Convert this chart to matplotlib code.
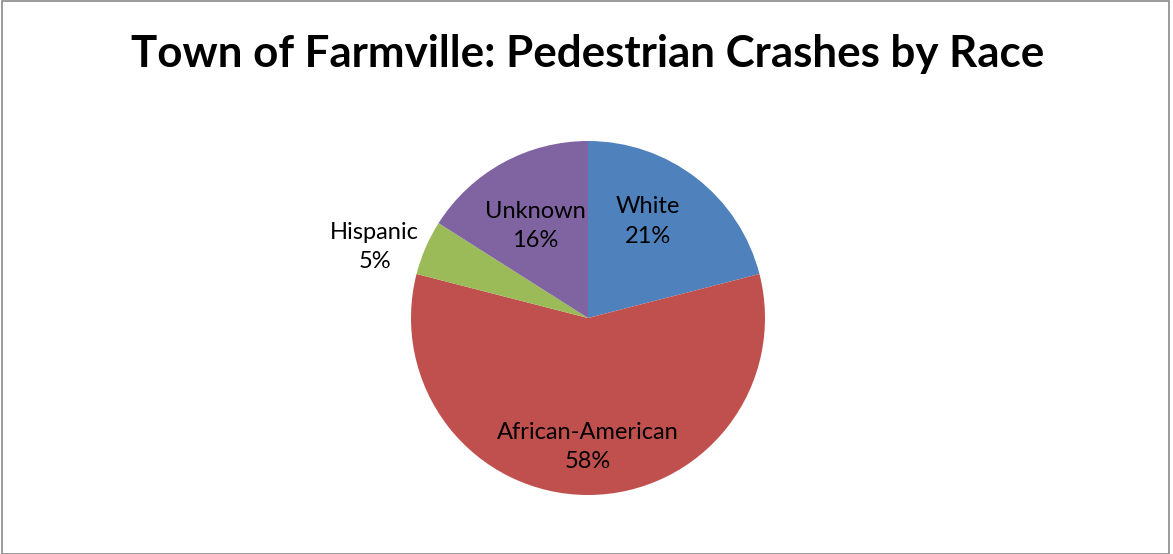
import numpy as np
import matplotlib
matplotlib.use("Agg")
import matplotlib.pyplot as plt
from matplotlib.patches import Rectangle

plt.rcParams['font.family'] = ['Lato', 'DejaVu Sans']

races = ['White', 'African-American', 'Hispanic', 'Unknown']
shares = [21, 58, 5, 16]
colors = ['#4F81BD', '#C0504D', '#9BBB59', '#8064A2']
label_radius = [0.64, 0.73, 1.27, 0.60]
label_turn = [6, 0, 5, 1]  # degrees, nudges labels like Excel's best fit

fig = plt.figure(figsize=(11.73, 5.54), dpi=100)
fig.patches.append(Rectangle((0.002, 0.0), 0.995, 0.998, transform=fig.transFigure,
                             fill=False, edgecolor='#8a8a8a', linewidth=1.2))

fig.text(0.501, 0.903, 'Town of Farmville: Pedestrian Crashes by Race',
         ha='center', va='center', fontsize=31.6, fontweight='bold')

cx, cy, r = 588, 318, 177
ax = fig.add_axes([(cx - r) / 1173, (554 - cy - r) / 554, 2 * r / 1173, 2 * r / 554])
wedges, _ = ax.pie(shares, colors=colors, startangle=90, counterclock=False,
                   wedgeprops=dict(linewidth=0))
ax.set_xlim(-1, 1)
ax.set_ylim(-1, 1)
ax.set_aspect('equal')
ax.axis('off')

for w, name, pct, lr, t in zip(wedges, races, shares, label_radius, label_turn):
    ang = np.deg2rad((w.theta1 + w.theta2) / 2 + t)
    ax.text(lr * np.cos(ang), lr * np.sin(ang), f'{name}\n{pct}%', ha='center', va='center',
            fontsize=17, linespacing=1.5)

fig.savefig('out.png', dpi=100)
